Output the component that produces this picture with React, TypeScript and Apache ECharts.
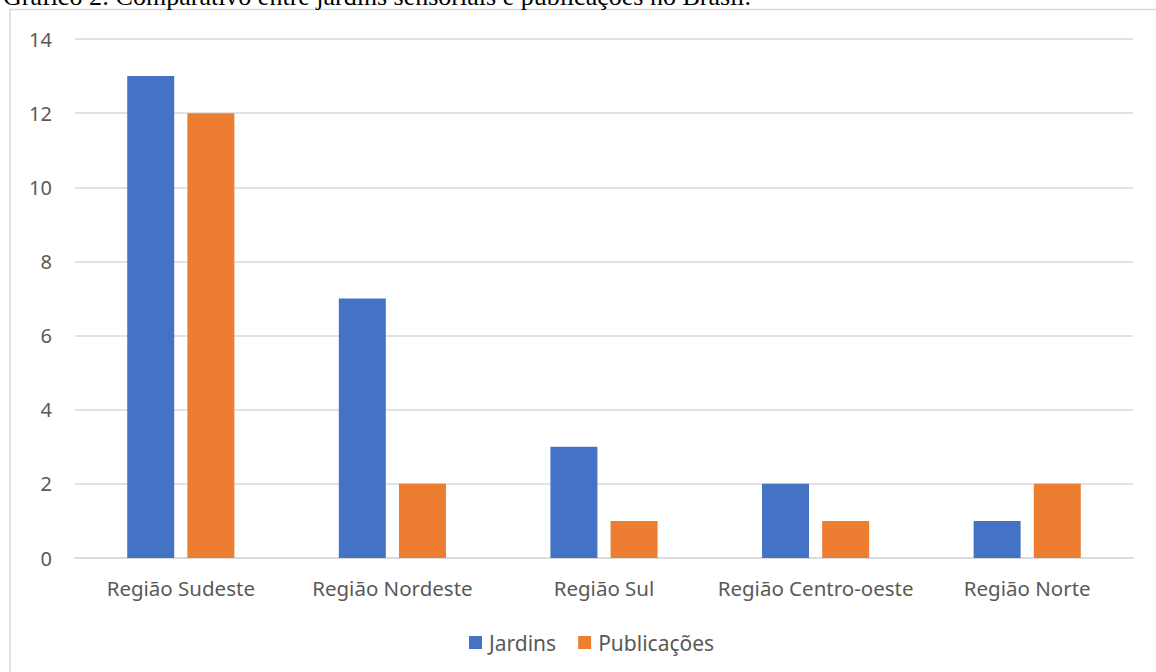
import React, { useEffect, useRef } from "react";
import * as echarts from "echarts";

const categories = ["Região Sudeste", "Região Nordeste", "Região Sul", "Região Centro-oeste", "Região Norte"];
const jardins = [13, 7, 3, 2, 1];
const publicacoes = [12, 2, 1, 1, 2];
const seriesNames = ["Jardins", "Publicações"];
const titleText = "Gráfico 2: Comparativo entre jardins sensoriais e publicações no Brasil.";

export default function App() {
  const ref = useRef<HTMLDivElement>(null);
  useEffect(() => {
    if (!ref.current) return;
    const chart = echarts.init(ref.current, undefined, { renderer: "svg" });
    const font = "'Noto Sans', sans-serif";
    chart.setOption({
      animation: false,
      backgroundColor: "#ffffff",
      graphic: [
        {
          type: "rect",
          shape: { x: 10, y: 9.5, width: 1200, height: 700 },
          style: { fill: "none", stroke: "#d9d9d9", lineWidth: 1.5 },
          silent: true,
        },
        {
          type: "text",
          x: 3,
          y: 9,
          style: {
            text: titleText,
            font: "26px 'Liberation Serif', serif",
            fill: "#000000",
            textVerticalAlign: "bottom",
          },
        },
      ],
      grid: { left: 75, right: 23, top: 39, bottom: 114, containLabel: false },
      legend: {
        data: seriesNames,
        bottom: 14,
        left: 464,
        itemWidth: 13,
        itemHeight: 13,
        itemGap: 22,
        icon: "rect",
        textStyle: { fontFamily: font, fontSize: 21, color: "#595959", padding: [0, 0, 0, 2] },
      },
      xAxis: {
        type: "category",
        data: categories,
        axisLine: { lineStyle: { color: "#d9d9d9", width: 1.5 } },
        axisTick: { show: false },
        axisLabel: { fontFamily: font, fontSize: 20.5, color: "#595959", margin: 19, interval: 0 },
      },
      yAxis: {
        type: "value",
        min: 0,
        max: 14,
        interval: 2,
        axisLine: { show: false },
        axisTick: { show: false },
        splitLine: { lineStyle: { color: "#d9d9d9", width: 1.5 } },
        axisLabel: { fontFamily: font, fontSize: 20, color: "#595959", margin: 23 },
      },
      series: [
        {
          name: seriesNames[0],
          type: "bar",
          data: jardins,
          barWidth: 47,
          barGap: "28%",
          itemStyle: { color: "#4472c4" },
        },
        {
          name: seriesNames[1],
          type: "bar",
          data: publicacoes,
          barWidth: 47,
          itemStyle: { color: "#ed7d31" },
        },
      ],
    });
    return () => chart.dispose();
  }, []);
  return (
    <div
      ref={ref}
      style={{ position: "fixed", top: 0, left: 0, width: 1156, height: 672 }}
    />
  );
}
